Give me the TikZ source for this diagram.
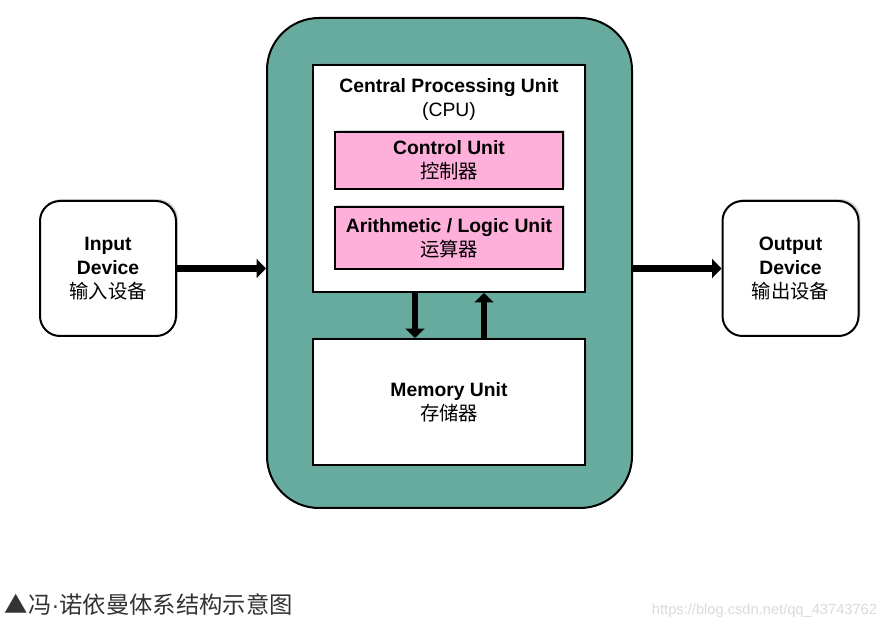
\documentclass[tikz,border=0pt]{standalone}
\usepackage{fontspec}
\setmainfont{Liberation Sans}
\newfontfamily\cjk{Noto Sans CJK SC}
\usetikzlibrary{arrows.meta,shadows}

\definecolor{tealfill}{HTML}{67AB9F}
\definecolor{pinkfill}{HTML}{FFB0DA}
\definecolor{captiongray}{HTML}{333333}
\definecolor{markgray}{HTML}{DADADA}

\tikzset{every picture/.style={line width=0.75pt}}
\tikzset{
	boxshadow/.style={drop shadow={opacity=0.3,shadow xshift=1.5pt,shadow yshift=1.5pt}},
	frame/.style={draw,line width=1.5pt,fill=tealfill,rounded corners=39pt,minimum width=273.75pt,minimum height=367.5pt},
	unitbox/.style={draw,line width=1.5pt,fill=white,boxshadow,minimum width=204pt,align=center,font=\fontsize{14.5pt}{18pt}\selectfont},
	subbox/.style={draw,line width=1.5pt,fill=pinkfill,boxshadow,minimum width=171pt,align=center,inner sep=0pt,font=\fontsize{14.5pt}{18pt}\selectfont},
	devbox/.style={draw,line width=1.5pt,fill=white,boxshadow,rounded corners=15pt,minimum width=102pt,minimum height=101.25pt,align=center,font=\fontsize{14.5pt}{18pt}\selectfont},
	labeltext/.style={align=center,font=\fontsize{14.5pt}{18pt}\selectfont},
	bigarrow/.style={line width=4.8pt,-{Triangle[length=7pt,width=14pt]}}
}

\begin{document}
\begin{tikzpicture}[x=0.75pt,y=0.75pt,yscale=-1,xscale=1]
	\useasboundingbox (0,0) rectangle (889,630);

	% computer frame
	\node[frame] (comp) at (449.5,263) {};

	% CPU and its parts
	\node[unitbox,minimum height=170.25pt] (cpu) at (449,178.5) {};
	\node[labeltext] (cputitle) at (449,100) {\bfseries Central Processing Unit\\(CPU)};
	\node[subbox,minimum height=42.75pt] (cu) at (449,160.5) {\bfseries Control Unit\\{\cjk 控制器}};
	\node[subbox,minimum height=46.5pt] (alu) at (449,238) {\bfseries Arithmetic / Logic Unit\\{\cjk 运算器}};

	% memory
	\node[unitbox,minimum height=94.5pt] (mem) at (449,402) {\bfseries Memory Unit\\{\cjk 存储器}};

	% devices
	\node[devbox] (in) at (108,268.5) {\bfseries Input\\\bfseries Device\\{\cjk 输入设备}};
	\node[devbox] (out) at (790.5,268.5) {\bfseries Output\\\bfseries Device\\{\cjk 输出设备}};

	% data flow
	\draw[bigarrow] (in.east) -- (in.east -| comp.west);
	\draw[bigarrow] (comp.east |- out.west) -- (out.west);
	\draw[bigarrow] ([xshift=-25.5pt]cpu.south) -- ([xshift=-25.5pt]mem.north);
	\draw[bigarrow] ([xshift=26.25pt]mem.north) -- ([xshift=26.25pt]cpu.south);

	% caption
	\node[anchor=west,text=captiongray,font=\cjk\fontsize{17.5pt}{20pt}\selectfont] (caption) at (0,605) {▲冯{\rmfamily ·}诺依曼体系结构示意图};
	\node[anchor=east,text=markgray,font=\fontsize{11pt}{13pt}\selectfont] (mark) at (882,611) {https://blog.csdn.net/qq\_43743762};

\end{tikzpicture}
\end{document}
